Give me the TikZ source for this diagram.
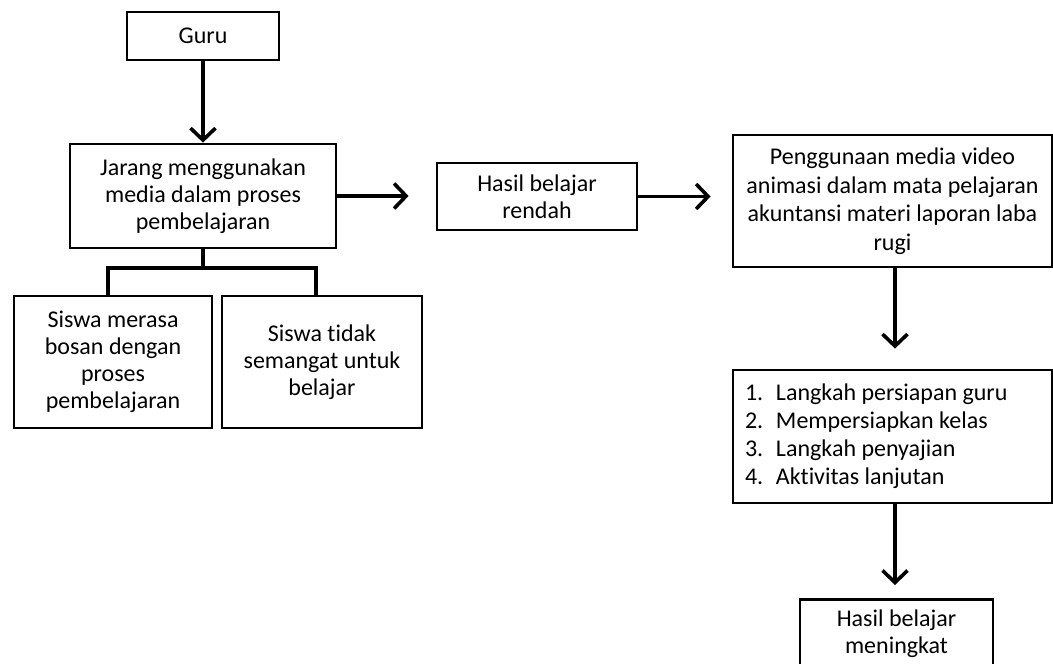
\documentclass[tikz,border=0pt]{standalone}
\usepackage{fontspec}
\setmainfont{Carlito}[RawFeature={-liga}]
\usetikzlibrary{arrows.meta}
\newcommand{\listline}[2]{\makebox[295pt][l]{\makebox[31pt][l]{#1}#2}}
\begin{document}
\begin{tikzpicture}[x=1pt,y=-1pt,
  box/.style={draw=black, line width=2.8pt, fill=white, inner sep=0pt, align=center,
    font=\fontsize{24}{27}\selectfont, line join=miter},
  conn/.style={draw=black, line width=3.6pt, line join=miter},
  arr/.style={conn, -{Straight Barb[length=12pt,width=25pt,line width=3.6pt]}}]
\useasboundingbox (0,0) rectangle (1053,664);
\fill[white] (0,0) rectangle (1053,664);
\node[box, minimum width=152pt, minimum height=48pt] (guru) at (203,36) {Guru};
\node[box, minimum width=266pt, minimum height=104pt] (jarang) at (203,196) {Jarang menggunakan\\media dalam proses\\pembelajaran};
\node[box, minimum width=198pt, minimum height=132pt] (siswa1) at (113,362) {Siswa merasa\\bosan dengan\\proses\\pembelajaran};
\node[box, minimum width=200pt, minimum height=132pt] (siswa2) at (322,362) {Siswa tidak\\semangat untuk\\belajar};
\node[box, minimum width=200pt, minimum height=67pt] (rendah) at (537,196.5) {Hasil belajar\\rendah};
\node[box, minimum width=319pt, minimum height=132pt, font=\fontsize{24}{28.5}\selectfont] (peng) at (892.5,201) {Penggunaan media video\\animasi dalam mata pelajaran\\akuntansi materi laporan laba\\rugi};
\node[box, minimum width=319pt, minimum height=133pt, font=\fontsize{24}{28}\selectfont] (langkah) at (892.5,436.5) {%
\listline{1.}{Langkah persiapan guru}\\
\listline{2.}{Mempersiapkan kelas}\\
\listline{3.}{Langkah penyajian}\\
\listline{4.}{Aktivitas lanjutan}};
\node[box, minimum width=193pt, minimum height=68pt, anchor=north] (naik) at (896.5,598) {Hasil belajar\\meningkat};
\coordinate (fork) at (203,268);
\draw[arr] (guru.south) -- (jarang.north);
\draw[arr, shorten >=27pt] (jarang.east) -- (jarang.east -| rendah.west);
\draw[arr, shorten >=21pt] (rendah.east) -- (rendah.east -| peng.west);
\draw[arr, shorten >=20pt] (peng.south -| 895,0) -- (langkah.north -| 895,0);
\draw[arr, shorten >=13pt] (langkah.south -| 895,0) -- (naik.north -| 895,0);
\draw[conn] (jarang.south) -- (fork);
\draw[conn] ([xshift=-5pt]siswa1.north) |- (fork) -| ([xshift=-6pt]siswa2.north);
\end{tikzpicture}
\end{document}
